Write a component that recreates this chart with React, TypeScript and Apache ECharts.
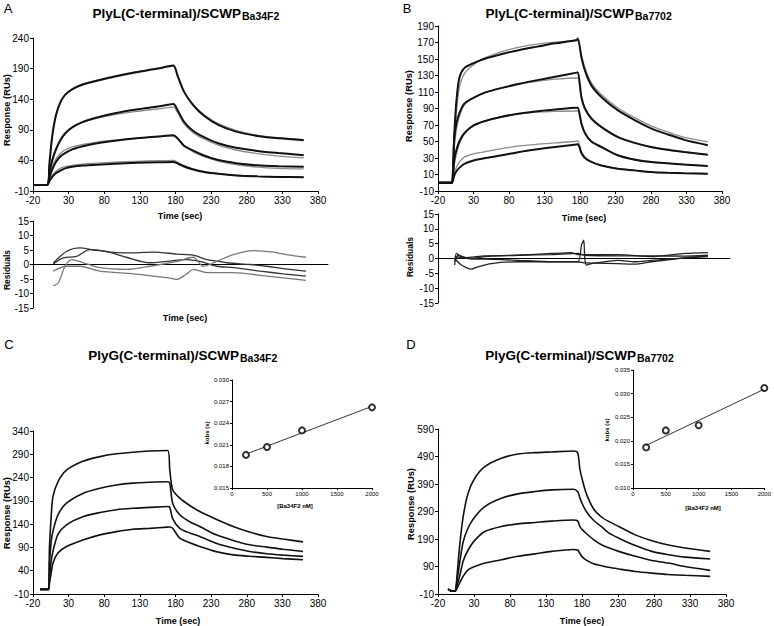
import React, { useEffect, useRef } from 'react';
import * as echarts from 'echarts';

const FONT = '"Liberation Sans", Arial, Helvetica, sans-serif';
const BLACK = '#111';
const GRAY = '#8c8c8c';

// ---------- Panel A : PlyL / SCWP Ba34F2 ----------
const tA = [-20, 0, 3, 7, 12, 18, 25, 35, 50, 70, 95, 125, 155, 177, 183, 192, 205, 220, 240, 265, 295, 325, 360];
const a1 = [0, 0, 35, 80, 113, 134, 147, 156, 164, 170, 177, 184, 190, 195, 178, 152, 130, 113, 98, 87, 80, 76, 73];
const a1Fit = [0, 0, 30, 76, 111, 133, 147, 157, 165, 171, 178, 185, 190, 194, 177, 153, 131, 115, 100, 89, 81, 77, 74];
const a2 = [0, 0, 20, 40, 57, 72, 84, 94, 103, 110, 117, 123, 128, 132, 122, 103, 88, 78, 68, 60.5, 55.5, 52, 48.5];
const a2Fit = [0, 0, 22, 42, 59, 73, 84, 94, 102, 109, 115, 120, 124, 127, 118, 100, 85, 75, 65, 57, 51, 47, 44];
const a3 = [0, 0, 12, 25, 37, 46, 52, 58, 63, 68, 72, 76, 79, 81, 76, 64, 56, 48, 40.5, 35.5, 32, 30.5, 29.5];
const a3Fit = [0, 0, 15, 30, 42, 51, 57, 62, 66, 70, 73, 76, 79, 80, 75, 63, 54, 46, 39, 33, 29, 27, 26];
const a4 = [0, 0, 6, 13, 19, 23, 27, 29.5, 31.5, 33, 34.5, 36, 37, 37.5, 35, 30, 25, 21, 18, 15.5, 14, 13, 12.5];
const a4Fit = [0, 0, 8, 16, 22, 27, 30, 32, 34, 35.5, 37, 38.5, 39.5, 40, 37, 32, 26, 22, 18.5, 16, 14, 13, 12.5];

// Residuals A
const rA1t = [8.5, 27, 46, 65, 88, 121, 149, 182, 205, 224, 238, 252, 285, 308, 331, 363];
const rA1 = [0.5, 4.5, 5.7, 5, 4.3, 4, 4.3, 3.6, 3.2, 1.7, 1.2, 0.6, 0, -0.6, -1.4, -2.3];
const rA2t = [8.5, 22.6, 41, 60, 83, 111, 144, 168, 196, 214, 238, 261, 299, 331, 363];
const rA2 = [0.2, 2.3, 2.8, 5.1, 4.5, 2.5, 0.6, 1.1, 1.7, 1.1, -0.6, -1.1, -2.3, -3.2, -4];
const rA3t = [8.5, 15.5, 25, 34, 51, 74, 111, 144, 182, 205, 219, 238, 261, 289, 317, 341, 363];
const rA3 = [-7.4, -6.3, -0.6, 1.7, 0.6, -1.1, -1.7, -0.6, 1.1, 2.5, -0.6, 1.1, 3.4, 4.8, 4.3, 3.2, 2.5];
const rA4t = [8.5, 27, 46, 74, 121, 168, 182, 196, 205, 224, 261, 308, 363];
const rA4 = [-2.3, -0.6, -0.6, -2.3, -3.2, -4.5, -5.1, -3.2, -1.7, -2.8, -2.8, -4, -5.5];

// ---------- Panel B : PlyL / SCWP Ba7702 ----------
const tB = [-20, -1, 0, 3, 6, 10, 17, 30, 45, 70, 95, 120, 145, 175, 177, 182, 187, 196, 210, 233, 257, 280, 304, 327, 360];
const b1 = [0, 0, 0, 60, 100, 127, 139, 145, 150, 156, 161, 165, 169, 173, 175, 152, 136, 118, 104, 88, 76, 66, 58.5, 52, 45.5];
const b1Fit = [0, 0, 0, 45, 85, 115, 132, 143, 151, 159, 164.5, 168, 170.5, 172, 172, 155, 139, 121, 107, 91, 79, 69, 61.5, 55, 49.5];
const b2 = [0, 0, 0, 55, 72, 84, 96, 103, 109, 115, 120, 124.4, 128.5, 133.5, 134, 104, 90, 78, 67.7, 55.6, 48.3, 43.4, 40, 37.4, 34];
const b2Fit = [0, 0, 0, 45, 65, 80, 94, 103, 109, 115, 120, 123, 125.5, 127, 127, 102, 89, 77, 67, 55, 48, 43, 39.5, 37, 34];
const b3 = [0, 0, 0, 28, 40, 50, 60, 69.5, 74.6, 80, 84, 86.8, 88.8, 91, 91, 72, 60, 50, 43.4, 33.3, 28, 25.2, 23.5, 22, 20.4];
const b3Fit = [0, 0, 0, 22, 35, 47, 59, 69, 74.5, 80, 83.5, 85.5, 86.5, 87, 87, 70, 60, 50, 43, 33.5, 28.5, 25.5, 23.5, 22, 20.4];
const b4 = [0, 0, 0, 9, 14, 18, 23, 27, 29.7, 33.3, 37.4, 40.6, 43.4, 46.5, 46.7, 36, 30, 25.2, 21, 17, 15, 13, 12, 11.5, 11];
const b4Fit = [0, 0, 0, 12, 19, 25, 31, 35, 37.4, 41.4, 44.7, 46.7, 48.3, 50.3, 51, 38, 31, 25.5, 21, 17, 15, 13, 12, 11.5, 11];

// Residuals B
const rB1t = [3.5, 5.8, 12.9, 27, 45.7, 92.7, 139.6, 167.8, 177, 186.6, 233.5, 280.5, 327.4, 360];
const rB1 = [-2.2, 1.7, 0.6, 0, 0.6, 1.1, 1.7, 2, 1.3, 1.3, 1.3, 0.6, 1.7, 2];
const rB2t = [3.5, 8.2, 22.3, 45.7, 92.7, 139.6, 177, 181.9, 185.2, 186.6, 189, 196, 233.5, 257, 280.5, 327.4, 360];
const rB2 = [-1.1, 1.1, 0, -0.2, -0.6, -1.1, -1.1, 4.5, 6.2, 0, -2.2, -1.7, -0.6, -1.1, -0.6, 0.2, 0.6];
const rB3t = [3.5, 12.9, 27, 36.3, 55, 92.7, 139.6, 177, 186.6, 233.5, 257, 280.5, 327.4, 360];
const rB3 = [0, -2.2, -3.6, -2.8, -1.7, -1.1, -1.1, -1.1, -1.5, -1.7, -1.9, -1.1, 0.2, 0.9];
const rB4t = [3.5, 17.6, 45.7, 92.7, 139.6, 177, 186.6, 233.5, 280.5, 327.4, 360];
const rB4 = [0.6, 0.3, 0.9, 1.1, 1.3, 1.7, 1.1, 0.9, 0.9, 0.8, 1.1];

// ---------- Panel C : PlyG / SCWP Ba34F2 ----------
const tC = [-10, 2, 3, 5.5, 8, 15, 27, 50, 74, 97, 120, 144, 169, 172, 176, 186, 200, 214, 237, 261, 284, 308, 331, 359];
const c1 = [0, 0, 85, 156, 199, 231, 256, 275, 285, 291, 294.5, 297, 298, 256, 214, 196, 180, 167, 150.7, 135, 123, 113.6, 108, 102];
const c2 = [0, 0, 50, 102, 125, 160, 185, 206, 217, 224, 228, 230, 231, 228, 185, 160, 145, 135, 117, 105, 95.7, 90.7, 86, 81.4];
const c3 = [0, 0, 25, 60, 82, 118, 138.6, 156, 165, 171, 174, 176, 178, 176, 152, 131, 121, 113.6, 99, 88.6, 81.4, 76.4, 73.5, 70.7];
const c4 = [0, 0, 12, 35, 56, 78, 92, 106, 117, 124, 129, 131, 133.6, 134, 131, 110, 100, 92, 81, 74, 71, 68.6, 66, 63.6];
const cConc = [200, 500, 1000, 2000];
const cKobs = [0.0196, 0.0207, 0.023, 0.0262];

// ---------- Panel D : PlyG / SCWP Ba7702 ----------
const tD = [-6, -3, 0, 4, 5.5, 10, 15, 21.8, 31, 45, 68, 91, 115, 138, 168, 174, 177, 180, 186, 196, 207, 217, 231, 254, 277, 300, 323, 358];
const d1 = [8, 3, 0, 0, 30, 163, 272, 356.5, 411, 453, 483.5, 499, 504, 506.5, 510, 504, 445, 410, 355, 300, 270, 254, 235.6, 205, 183.5, 168, 157, 145];
const d2 = [8, 3, 0, 0, 20, 102, 180, 230, 270, 308, 338, 354, 362.6, 368.6, 371, 362, 340, 320, 290, 258, 235, 212, 193, 166, 145, 133, 124, 117];
const d3 = [8, 3, 0, 0, 12, 54, 110, 150, 185, 217.4, 235.6, 245, 250, 255, 259, 256, 236, 225, 210, 188, 169, 158, 145, 127, 112, 102.5, 90, 76];
const d4 = [8, 3, 0, 0, 6, 30, 55, 78, 90, 102.5, 114.6, 127, 136, 145, 152, 150, 138, 126, 113, 100, 93, 87, 81, 72, 66, 61, 58, 54];
const dConc = [200, 500, 1000, 2000];
const dKobs = [0.0186, 0.0222, 0.0233, 0.0312];

const zip = (t: number[], v: number[]) => t.map((x, i) => [x, v[i]]);

function fitLine(xs: number[], ys: number[]) {
  const n = xs.length;
  const mx = xs.reduce((a, b) => a + b, 0) / n;
  const my = ys.reduce((a, b) => a + b, 0) / n;
  let sxy = 0, sxx = 0;
  for (let i = 0; i < n; i++) { sxy += (xs[i] - mx) * (ys[i] - my); sxx += (xs[i] - mx) ** 2; }
  const b = sxy / sxx;
  const a = my - b * mx;
  const x0 = Math.min(...xs), x1 = Math.max(...xs);
  return [[x0, a + b * x0], [x1, a + b * x1]];
}

const plain = (v: number) => String(Math.round(v));

function axis(gridIndex: number, min: number, max: number, interval: number, o: any = {}) {
  const fs = o.fontSize ?? 10;
  return {
    type: 'value', gridIndex, min, max, interval,
    axisLine: { show: true, onZero: o.onZero ?? false, lineStyle: { color: '#000', width: 1 } },
    axisTick: { show: o.ticks ?? true, length: o.tickLen ?? 3, lineStyle: { color: '#000', width: 1 } },
    axisLabel: {
      show: o.labels ?? true, color: '#000', fontSize: fs, fontFamily: FONT, margin: o.margin ?? 4,
      formatter: o.formatter ?? plain,
    },
    splitLine: { show: false },
  };
}

function line(xi: number, data: number[][], color: string, width: number, smooth: number | boolean = 0.25) {
  return {
    type: 'line', xAxisIndex: xi, yAxisIndex: xi, data, showSymbol: false, symbol: 'none',
    smooth, lineStyle: { color, width }, silent: true, z: color === GRAY ? 2 : 3,
  };
}

function txt(x: number, y: number, text: string, size: number, bold: boolean, align = 'center', rot = 0) {
  return {
    type: 'text', x, y, rotation: rot,
    style: {
      text, fill: '#000', font: `${bold ? 'bold ' : ''}${size}px ${FONT}`,
      align, textAlign: align, verticalAlign: 'middle', textVerticalAlign: 'middle',
    },
  };
}

function buildOption() {
  const grid = [
    { left: 33, top: 38, width: 285, height: 153 },   // 0 A main
    { left: 33, top: 221, width: 295, height: 87 },   // 1 A resid
    { left: 438, top: 26, width: 284, height: 165 },  // 2 B main
    { left: 438, top: 214, width: 292, height: 89 },  // 3 B resid
    { left: 33, top: 431, width: 285, height: 163 },  // 4 C main
    { left: 232, top: 380, width: 140, height: 108 }, // 5 C inset
    { left: 438, top: 429, width: 288, height: 165 }, // 6 D main
    { left: 633, top: 370, width: 132, height: 118 }, // 7 D inset
  ];
  const f3 = (v: number) => v.toFixed(3);
  const xAxis = [
    axis(0, -20, 380, 50),
    axis(1, -20, 394, 100, { labels: false, ticks: false, onZero: true }),
    axis(2, -20, 380, 50),
    axis(3, -20, 391, 100, { labels: false, ticks: false, onZero: true }),
    axis(4, -20, 380, 50),
    axis(5, 0, 2000, 500, { fontSize: 6, tickLen: 2, margin: 3 }),
    axis(6, -20, 380, 50),
    axis(7, 0, 2000, 500, { fontSize: 6, tickLen: 2, margin: 3 }),
  ];
  const yAxis = [
    axis(0, -10, 240, 50),
    axis(1, -15, 15, 5),
    axis(2, -10, 190, 20),
    axis(3, -15, 15, 5),
    axis(4, -10, 340, 50),
    axis(5, 0.015, 0.03, 0.003, { fontSize: 6, tickLen: 2, margin: 3, formatter: f3 }),
    axis(6, -10, 590, 100),
    axis(7, 0.01, 0.035, 0.005, { fontSize: 6, tickLen: 2, margin: 3, formatter: f3 }),
  ];

  const series: any[] = [];
  // A
  [a1Fit, a2Fit, a3Fit, a4Fit].forEach((v) => series.push(line(0, zip(tA, v), GRAY, 1.3)));
  [a1, a2, a3, a4].forEach((v) => series.push(line(0, zip(tA, v), BLACK, 2)));
  series.push(line(1, zip(rA1t, rA1), '#333', 1.3, 0.3));
  series.push(line(1, zip(rA2t, rA2), '#333', 1.3, 0.3));
  series.push(line(1, zip(rA3t, rA3), '#777', 1.3, 0.3));
  series.push(line(1, zip(rA4t, rA4), '#777', 1.3, 0.3));
  // B
  [b1Fit, b2Fit, b3Fit, b4Fit].forEach((v) => series.push(line(2, zip(tB, v), GRAY, 1.3)));
  [b1, b2, b3, b4].forEach((v) => series.push(line(2, zip(tB, v), BLACK, 2)));
  series.push(line(3, zip(rB1t, rB1), '#222', 1.3, 0.2));
  series.push(line(3, zip(rB2t, rB2), '#222', 1.3, 0.2));
  series.push(line(3, zip(rB3t, rB3), '#222', 1.3, 0.2));
  series.push(line(3, zip(rB4t, rB4), '#222', 1.3, 0.2));
  // C
  [c1, c2, c3, c4].forEach((v) => series.push(line(4, zip(tC, v), BLACK, 1.6)));
  series.push(line(5, fitLine(cConc, cKobs), '#000', 0.8, false));
  series.push({
    type: 'scatter', xAxisIndex: 5, yAxisIndex: 5, data: zip(cConc, cKobs), symbol: 'emptyCircle', symbolSize: 6,
    itemStyle: { color: '#000', borderColor: '#000', borderWidth: 1.1 }, z: 4,
  });
  // D
  [d1, d2, d3, d4].forEach((v) => series.push(line(6, zip(tD, v), BLACK, 1.6)));
  series.push(line(7, fitLine(dConc, dKobs), '#000', 0.8, false));
  series.push({
    type: 'scatter', xAxisIndex: 7, yAxisIndex: 7, data: zip(dConc, dKobs), symbol: 'emptyCircle', symbolSize: 6,
    itemStyle: { color: '#000', borderColor: '#000', borderWidth: 0.9 }, z: 4,
  });

  const R = Math.PI / 2;
  const graphic = [
    // panel letters
    txt(8, 8, 'A', 13, false), txt(407, 8, 'B', 13, false),
    txt(9, 344, 'C', 13, false), txt(411, 344, 'D', 13, false),
    // titles
    txt(241, 13, 'PlyL(C-terminal)/SCWP', 13.5, true, 'right'), txt(242, 16, 'Ba34F2', 10.5, true, 'left'),
    txt(634, 13, 'PlyL(C-terminal)/SCWP', 13.5, true, 'right'), txt(635, 16, 'Ba7702', 10.5, true, 'left'),
    txt(239, 355, 'PlyG(C-terminal)/SCWP', 13.5, true, 'right'), txt(240, 358, 'Ba34F2', 10.5, true, 'left'),
    txt(636, 355, 'PlyG(C-terminal)/SCWP', 13.5, true, 'right'), txt(637, 358, 'Ba7702', 10.5, true, 'left'),
    // axis names
    txt(7, 110, 'Response (RUs)', 9.3, true, 'center', R),
    txt(180, 216, 'Time (sec)', 9, true),
    txt(7, 270, 'Residuals', 8.5, true, 'center', R),
    txt(185, 318, 'Time (sec)', 9, true),
    txt(409, 106, 'Response (RUs)', 9.3, true, 'center', R),
    txt(584, 218, 'Time (sec)', 9, true),
    txt(410, 257, 'Residuals', 8.5, true, 'center', R),
    txt(7, 513, 'Response (RUs)', 9.3, true, 'center', R),
    txt(178, 621, 'Time (sec)', 9, true),
    txt(411, 504, 'Response (RUs)', 9.3, true, 'center', R),
    txt(582, 621, 'Time (sec)', 9, true),
    txt(207, 433, 'kobs (s)', 6, true, 'center', R),
    txt(295, 506, '[Ba34F2 nM]', 6, true),
    txt(607, 430, 'kobs (s)', 6, true, 'center', R),
    txt(703, 508, '[Ba34F2 nM]', 6, true),
  ];

  return {
    animation: false,
    backgroundColor: '#fff',
    grid, xAxis, yAxis, series, graphic,
  };
}

export default function App() {
  const ref = useRef<HTMLDivElement>(null);
  useEffect(() => {
    const chart = echarts.init(ref.current as HTMLDivElement, null, { renderer: 'svg' });
    chart.setOption(buildOption() as any);
    return () => chart.dispose();
  }, []);
  return (
    <div
      ref={ref}
      style={{ position: 'fixed', left: 0, top: 0, width: 774, height: 626, background: '#fff' }}
    />
  );
}
